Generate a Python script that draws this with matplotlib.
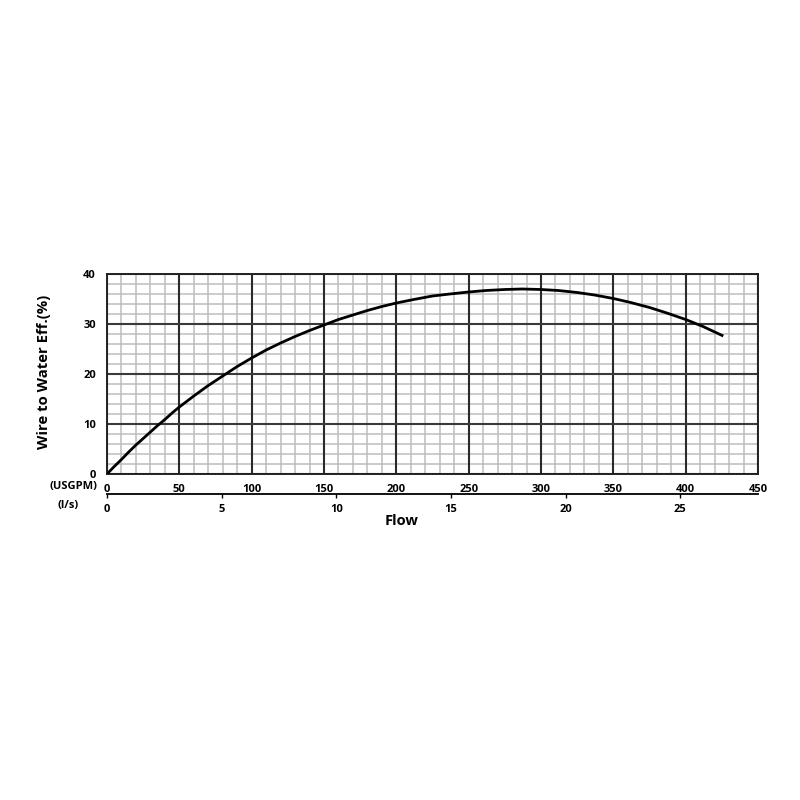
import matplotlib
matplotlib.use("Agg")
import matplotlib.pyplot as plt
from matplotlib.ticker import MultipleLocator

# Data
flow_usgpm = [0, 5, 10, 15, 20, 25, 30, 35, 40, 45, 50, 60, 70, 80, 90, 100, 110,
              120, 130, 140, 150, 160, 170, 180, 190, 200, 212, 225, 237, 250,
              262, 275, 287, 300, 312, 325, 337, 350, 362, 375, 387, 400, 412, 426]
efficiency = [0, 1.5, 2.9, 4.4, 5.8, 7.1, 8.4, 9.7, 10.9, 12.2, 13.4, 15.6, 17.7,
              19.6, 21.5, 23.2, 24.8, 26.2, 27.5, 28.7, 29.8, 30.9, 31.8, 32.7,
              33.5, 34.2, 34.9, 35.6, 36.0, 36.4, 36.7, 36.9, 37.0, 36.9, 36.7,
              36.3, 35.8, 35.1, 34.3, 33.3, 32.2, 30.9, 29.5, 27.6]
usgpm_ticks = [0, 50, 100, 150, 200, 250, 300, 350, 400, 450]
ls_ticks = [0, 5, 10, 15, 20, 25]
y_ticks = [0, 10, 20, 30, 40]
GPM_TO_LS = 0.0630902

plt.rcParams['font.family'] = ['Open Sans', 'DejaVu Sans']
plt.rcParams['font.weight'] = 'bold'

fig = plt.figure(figsize=(8, 8), dpi=100)
W = H = 800.0
left, right, top, bottom = 107, 758, 274, 474
ax = fig.add_axes([left / W, 1 - bottom / H, (right - left) / W, (bottom - top) / H])

ax.set_xlim(0, 450)
ax.set_ylim(0, 40)
ax.set_xticks(usgpm_ticks)
ax.set_yticks(y_ticks)
ax.xaxis.set_minor_locator(MultipleLocator(10))
ax.yaxis.set_minor_locator(MultipleLocator(2))
ax.grid(which='minor', color='#bdbdbd', linewidth=1.1)
ax.set_axisbelow(True)
# major grid drawn on top of the minor grid
ax.vlines(usgpm_ticks, 0, 40, colors='#2a2a2a', linewidth=1.5, zorder=1.5)
ax.hlines(y_ticks, 0, 450, colors='#3a3a3a', linewidth=1.5, zorder=1.5)
ax.tick_params(which='both', length=0)
ax.tick_params(axis='x', pad=7, labelsize=8)
ax.tick_params(axis='y', pad=8, labelsize=8)
for lab in ax.get_xticklabels() + ax.get_yticklabels():
    lab.set_fontweight('bold')
for s in ax.spines.values():
    s.set_color('#222222')
    s.set_linewidth(1.4)

ax.plot(flow_usgpm, efficiency, color='black', linewidth=2.0, zorder=3,
        solid_capstyle='butt', solid_joinstyle='round')

sec = ax.secondary_xaxis(-0.1, functions=(lambda x: x * GPM_TO_LS, lambda x: x / GPM_TO_LS))
sec.set_xticks(ls_ticks)
sec.tick_params(direction='out', length=3, width=1.0, pad=4, labelsize=8)
sec.spines['bottom'].set_linewidth(1.3)
for lab in sec.get_xticklabels():
    lab.set_fontweight('bold')

fig.text(73 / W, 1 - 487 / H, '(USGPM)', ha='center', va='center', fontsize=8, fontweight='bold')
fig.text(68 / W, 1 - 506 / H, '(l/s)', ha='center', va='center', fontsize=8, fontweight='bold')
fig.text(402 / W, 1 - 521 / H, 'Flow', ha='center', va='center', fontsize=10.5, fontweight='bold')
fig.text(44 / W, 1 - 372 / H, 'Wire to Water Eff.(%)', ha='center', va='center',
         rotation=90, fontsize=10.7, fontweight='bold')

fig.savefig('out.png', dpi=100)
